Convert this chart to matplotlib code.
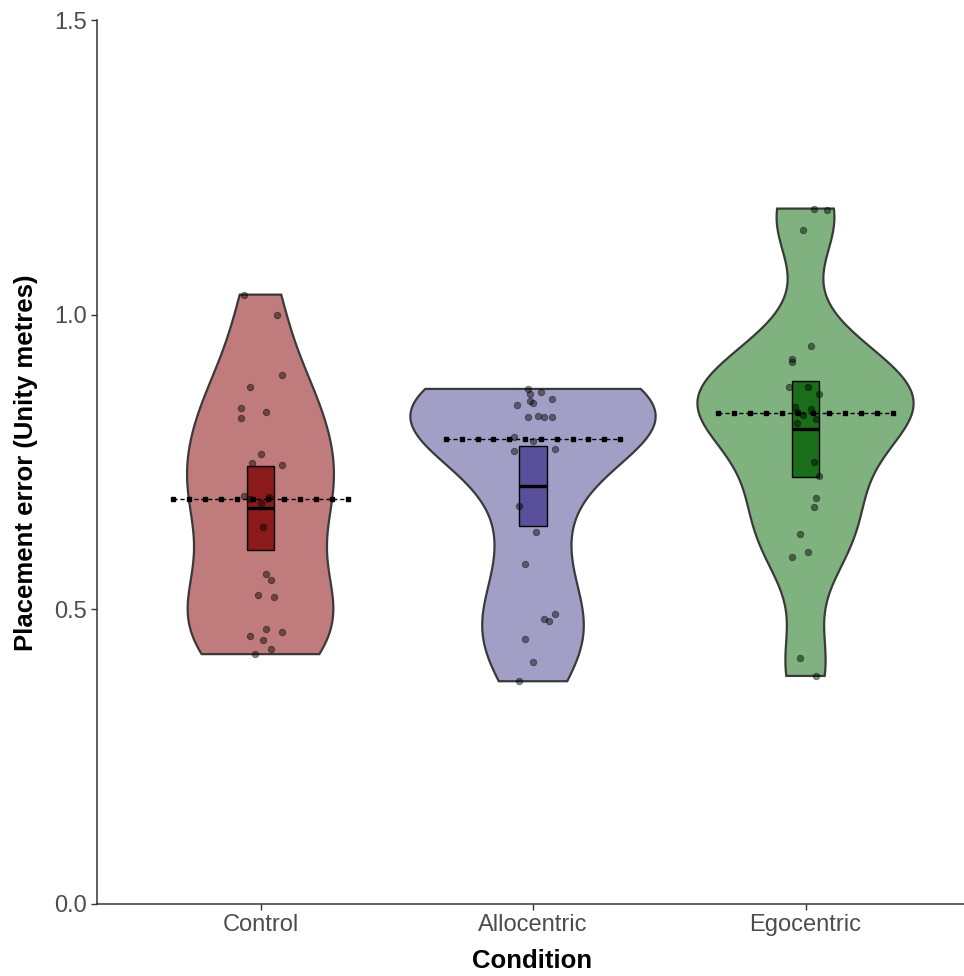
import numpy as np
import matplotlib
matplotlib.use('Agg')
import matplotlib.pyplot as plt
from matplotlib.patches import Rectangle

plt.rcParams['font.family'] = ['Liberation Sans', 'DejaVu Sans']

conditions = ['Control', 'Allocentric', 'Egocentric']

# placement error per participant (Unity metres)
control = [1.034, 0.999, 0.898, 0.877, 0.841, 0.835, 0.824, 0.763, 0.749, 0.745,
           0.693, 0.688, 0.681, 0.560, 0.549, 0.525, 0.521, 0.466, 0.462, 0.455,
           0.448, 0.433, 0.424, 0.640, 0.690]
allocentric = [0.874, 0.865, 0.868, 0.857, 0.853, 0.850, 0.847, 0.826, 0.828, 0.826,
               0.826, 0.793, 0.786, 0.769, 0.772, 0.676, 0.632, 0.577, 0.492, 0.483,
               0.481, 0.450, 0.411, 0.378]
egocentric = [1.180, 1.177, 1.143, 0.946, 0.925, 0.920, 0.878, 0.878, 0.865, 0.844,
              0.835, 0.823, 0.817, 0.750, 0.727, 0.689, 0.673, 0.627, 0.597, 0.588,
              0.418, 0.387, 0.830, 0.840]

# horizontal jitter of each point (category units)
control_jit = [-0.06, 0.06, 0.08, -0.04, -0.07, 0.02, -0.07, -0.00, -0.03, 0.08,
               -0.06, -0.04, 0.00, 0.02, 0.04, -0.01, 0.05, 0.02, 0.08, -0.04,
               0.01, 0.04, -0.02, 0.01, 0.03]
allocentric_jit = [-0.02, -0.01, 0.03, 0.07, -0.01, 0.00, -0.06, -0.02, 0.02, 0.04,
                   0.07, -0.07, 0.00, -0.07, 0.08, -0.05, 0.01, -0.03, 0.08, 0.04,
                   0.06, -0.03, 0.00, -0.05]
egocentric_jit = [0.03, 0.08, -0.01, 0.02, -0.05, -0.05, -0.06, 0.01, 0.05, -0.04,
                  -0.03, 0.04, -0.03, 0.03, 0.05, 0.04, 0.03, -0.02, 0.01, -0.05,
                  -0.02, 0.04, -0.01, 0.02]

fills = ['#c07c7c', '#a29fc6', '#7fb27f']
box_fills = ['#8b1a1a', '#5a4f9b', '#1a6e1a']


def nrd0(x):
    # Silverman's rule, same as R's bw.nrd0
    sd = np.std(x, ddof=1)
    q75, q25 = np.percentile(x, [75, 25])
    lo = min(sd, (q75 - q25) / 1.34)
    return 0.9 * lo * len(x) ** -0.2


def density(x, n=512):
    x = np.asarray(x)
    bw = nrd0(x)
    grid = np.linspace(x.min(), x.max(), n)
    z = (grid[:, None] - x[None, :]) / bw
    d = np.exp(-0.5 * z ** 2).sum(axis=1) / (len(x) * bw * np.sqrt(2 * np.pi))
    return grid, d


groups = [control, allocentric, egocentric]
jitters = [control_jit, allocentric_jit, egocentric_jit]
dens = [density(g) for g in groups]
dmax = max(d.max() for _, d in dens)

fig = plt.figure(figsize=(9.64, 9.76), dpi=100)
ax = fig.add_axes([97 / 964, 72 / 976, 872 / 964, 884 / 976])

for i, (vals, jit) in enumerate(zip(groups, jitters)):
    vals = np.asarray(vals)
    grid, d = dens[i]
    half = d / dmax * 0.45
    ax.fill(np.r_[i - half, (i + half)[::-1]], np.r_[grid, grid[::-1]],
            facecolor=fills[i], edgecolor='#3a3a3a', linewidth=1.6, zorder=1)

    # mean with 95% CI box
    m = vals.mean()
    ci = 1.96 * vals.std(ddof=1) / np.sqrt(len(vals))
    ax.add_patch(Rectangle((i - 0.05, m - ci), 0.1, 2 * ci, facecolor=box_fills[i],
                           edgecolor='black', linewidth=1.0, zorder=2))
    ax.plot([i - 0.05, i + 0.05], [m, m], color='black', linewidth=2.4,
            solid_capstyle='butt', zorder=3)

    ax.scatter(i + np.asarray(jit), vals, s=22, color='black', alpha=0.45,
               edgecolors='black', linewidths=0.6, zorder=4)

    # median line
    med = np.median(vals)
    xs = np.linspace(i - 0.32, i + 0.32, 12)
    ax.plot(xs, np.full_like(xs, med), color='black', linestyle=(0, (3, 2)),
            linewidth=1.0, marker='s', markersize=3, zorder=5)

ax.set_xlim(-0.6, 2.6)
ax.set_ylim(0, 1.5)
ax.set_xticks(range(3))
ax.set_xticklabels(conditions)
ax.set_yticks([0.0, 0.5, 1.0, 1.5])
ax.set_yticklabels(['0.0', '0.5', '1.0', '1.5'])

for s in ['top', 'right']:
    ax.spines[s].set_visible(False)
for s in ['left', 'bottom']:
    ax.spines[s].set_color('#333333')
    ax.spines[s].set_linewidth(1.1)

ax.tick_params(axis='both', length=4, width=1.0, color='#333333',
               labelcolor='#4d4d4d', labelsize=17, pad=3)

ax.set_xlabel('Condition', fontsize=18.5, fontweight='bold', va='center')
ax.set_ylabel('Placement error (Unity metres)', fontsize=18.5, fontweight='bold', va='center')
ax.xaxis.set_label_coords(0.499, -0.0645)
ax.yaxis.set_label_coords(-0.0814, 0.499)

fig.savefig('out.png', dpi=100)
